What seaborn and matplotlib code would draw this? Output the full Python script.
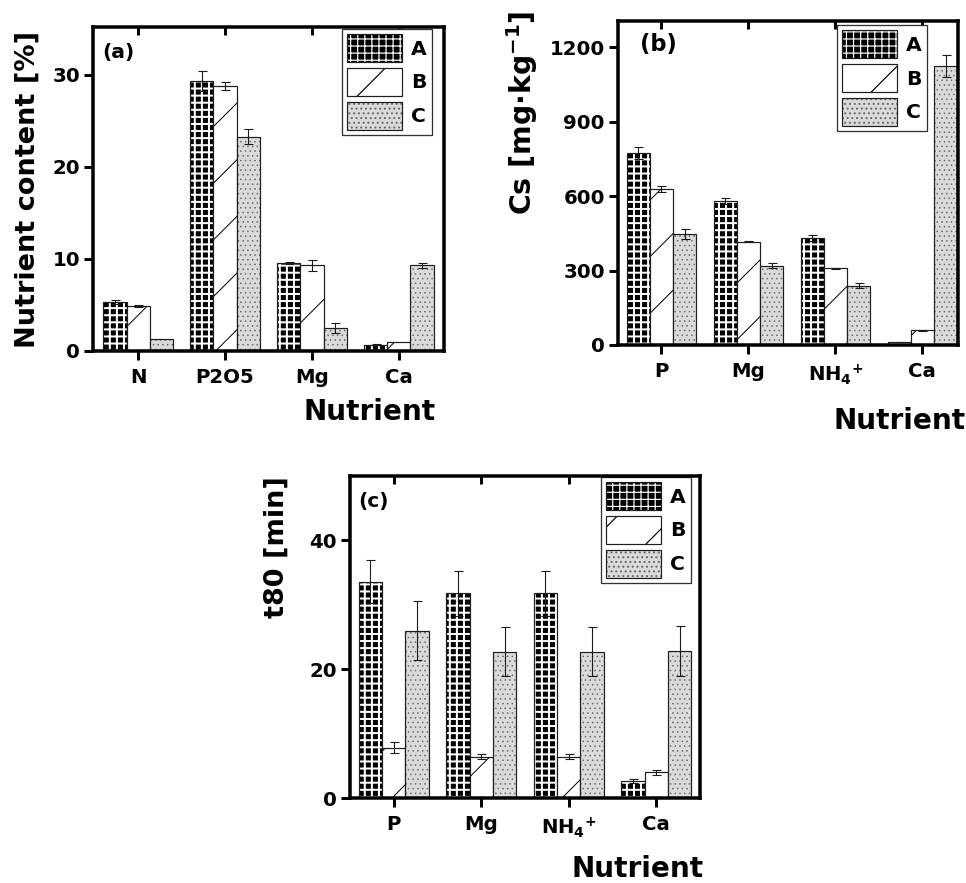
import numpy as np
import pandas as pd
import matplotlib
matplotlib.use("Agg")
import matplotlib.pyplot as plt
import matplotlib.colors as mcolors
import seaborn as sns

DPI = 170
W, H = 966, 883


def P(px):
    """pixels -> points"""
    return px * 72.0 / DPI


# ---------------- data ----------------
samples = ["A", "B", "C"]

cats_a = ["N", "P2O5", "Mg", "Ca"]
ticks_a = ["N", "P2O5", "Mg", "Ca"]
a_A = [5.3, 29.3, 9.6, 0.7]
a_A_err = [0.2, 1.1, 0.1, 0.1]
a_B = [4.9, 28.8, 9.3, 1.0]
a_B_err = [0.1, 0.4, 0.6, 0.0]
a_C = [1.3, 23.3, 2.5, 9.3]
a_C_err = [0.0, 0.8, 0.5, 0.3]

cats_bc = ["P", "Mg", "NH4+", "Ca"]
ticks_bc = ["P", "Mg", r"NH$_4$$^{+}$", "Ca"]
b_A = [772, 579, 431, 13]
b_A_err = [24, 13, 13, 0]
b_B = [628, 416, 309, 60]
b_B_err = [11, 2, 2, 2]
b_C = [446, 320, 239, 1124]
b_C_err = [20, 11, 11, 44]

c_A = [33.6, 31.8, 31.8, 2.7]
c_A_err = [3.3, 3.5, 3.5, 0.3]
c_B = [7.8, 6.4, 6.4, 4.0]
c_B_err = [0.85, 0.4, 0.4, 0.4]
c_C = [26.0, 22.7, 22.7, 22.8]
c_C_err = [4.6, 3.8, 3.8, 3.9]

# ---------------- style ----------------
sns.set_style("ticks")
plt.rcParams["font.family"] = ["DejaVu Sans"]
plt.rcParams["font.weight"] = "bold"
plt.rcParams["axes.labelweight"] = "bold"
plt.rcParams["mathtext.fontset"] = "dejavusans"
plt.rcParams["mathtext.default"] = "bf"
plt.rcParams["hatch.linewidth"] = P(1.2)
plt.rcParams["text.color"] = "black"
plt.rcParams["axes.labelcolor"] = "black"
plt.rcParams["xtick.color"] = "black"
plt.rcParams["ytick.color"] = "black"

STYLE = {
    "A": dict(face="black", hatch="++++", hcolor="white", hlw=2.0),
    "B": dict(face="white", hatch="/", hcolor="black", hlw=1.0),
    "C": dict(face="#dadada", hatch="......", hcolor="#6a6a6a", hlw=0.7),
}

fig = plt.figure(figsize=(W / DPI, H / DPI), dpi=DPI)


def rect_px(l, t, r, b):
    return [l / W, 1 - b / H, (r - l) / W, (b - t) / H]


def make_df(cats, A, B, C):
    rows = []
    for s, vals in zip(samples, [A, B, C]):
        for c, v in zip(cats, vals):
            rows.append((c, s, v))
    return pd.DataFrame(rows, columns=["Nutrient", "Sample", "Value"])


def style_patch(p, s):
    st = STYLE[s]
    p.set_facecolor(st["face"])
    p.set_edgecolor("#1e1e1e")
    p.set_linewidth(P(1.2))
    p.set_hatch(st["hatch"])
    p._hatch_color = mcolors.to_rgba(st["hcolor"])
    if hasattr(p, "set_hatch_linewidth"):
        p.set_hatch_linewidth(P(st["hlw"]))


def panel(box, cats, ticklabels, vals, errs, ylim, xlim, yticks, ylabel,
          ylab_xy, xlab_xy, tag, tag_xy, tag_fs, leg_anchor, ylab_fs=11.5):
    ax = fig.add_axes(rect_px(*box))
    df = make_df(cats, *vals)
    sns.barplot(data=df, x="Nutrient", y="Value", hue="Sample", order=cats,
                hue_order=samples, errorbar=None, width=0.8, gap=0,
                saturation=1, palette=["white", "white", "white"],
                legend=False, ax=ax, zorder=2)
    bar_conts = list(ax.containers)[:3]
    for s, cont in zip(samples, bar_conts):
        for p in cont.patches:
            style_patch(p, s)
    # error bars from the bars drawn by seaborn
    for cont, err in zip(bar_conts, errs):
        xs, ys, es = [], [], []
        for p, e in zip(cont.patches, err):
            if e > 0:
                xs.append(p.get_x() + p.get_width() / 2)
                ys.append(p.get_height())
                es.append(e)
        if xs:
            ax.errorbar(xs, ys, yerr=es, fmt="none", ecolor="#1a1a1a",
                        elinewidth=P(1.1), capsize=P(4.5), capthick=P(1.1),
                        zorder=4)
    ax.set_xlim(*xlim)
    ax.set_ylim(*ylim)
    ax.set_yticks(yticks)
    ax.set_xticks(range(len(cats)))
    ax.set_xticklabels(ticklabels)
    for sp in ax.spines.values():
        sp.set_visible(True)
        sp.set_linewidth(P(3.5))
        sp.set_color("black")
        sp.set_zorder(6)
    ax.tick_params(axis="both", direction="out", length=P(9), width=P(3),
                   labelsize=8.4, colors="black", right=False, top=False)
    ax.tick_params(axis="x", pad=P(8))
    ax.tick_params(axis="y", pad=P(4))
    for t in ax.get_xticklabels() + ax.get_yticklabels():
        t.set_fontweight("bold")
    sec = ax.secondary_xaxis("top")
    sec.set_xticks(range(len(cats)))
    sec.tick_params(direction="in", length=P(8), width=P(3), labeltop=False,
                    colors="black")
    sec.spines["top"].set_visible(False)

    ax.set_ylabel(ylabel, fontsize=ylab_fs, fontweight="bold", va="center",
                  ha="center", color="black")
    ax.yaxis.set_label_coords(*ylab_xy)
    ax.set_xlabel("Nutrient", fontsize=11.8, fontweight="bold", va="center",
                  ha="center", color="black")
    ax.xaxis.set_label_coords(*xlab_xy)
    ax.text(tag_xy[0], tag_xy[1], tag, transform=ax.transAxes, ha="left",
            va="top", fontsize=tag_fs, fontweight="bold", color="black")

    handles = [cont.patches[0] for cont in bar_conts]
    leg = ax.legend(handles, samples, loc="upper right",
                    bbox_to_anchor=leg_anchor, borderaxespad=0, frameon=True,
                    fancybox=False, framealpha=1, edgecolor="#333333",
                    handlelength=2.7, handleheight=1.75, labelspacing=0.28,
                    handletextpad=0.45, borderpad=0.25,
                    prop={"weight": "bold", "size": 8.6})
    leg.get_frame().set_linewidth(P(1.3))
    leg.set_zorder(5)
    for t in leg.get_texts():
        t.set_color("black")
    return ax


# (a)
panel((93, 27, 444, 351), cats_a, ticks_a, [a_A, a_B, a_C],
      [a_A_err, a_B_err, a_C_err], (0, 35.2), (-0.52, 3.52), [0, 10, 20, 30],
      "Nutrient content [%]", (-0.185, 0.498), (0.789, -0.188), "(a)",
      (0.026, 0.95), 8.6, (0.966, 0.994))

# (b)
panel((618, 21, 958, 345), cats_bc, ticks_bc, [b_A, b_B, b_C],
      [b_A_err, b_B_err, b_C_err], (0, 1305), (-0.5, 3.41),
      [0, 300, 600, 900, 1200], r"Cs [mg$\cdot$kg$^{-1}$]",
      (-0.282, 0.718), (0.829, -0.234), "(b)", (0.065, 0.962), 9.6,
      (0.909, 0.987), ylab_fs=12)

# (c)
panel((350, 476, 700, 798), cats_bc, ticks_bc, [c_A, c_B, c_C],
      [c_A_err, c_B_err, c_C_err], (0, 50), (-0.5, 3.5), [0, 20, 40],
      "t80 [min]", (-0.209, 0.78), (0.823, -0.219), "(c)", (0.023, 0.95),
      8.6, (0.974, 0.997))

fig.savefig("out.png", dpi=DPI)
